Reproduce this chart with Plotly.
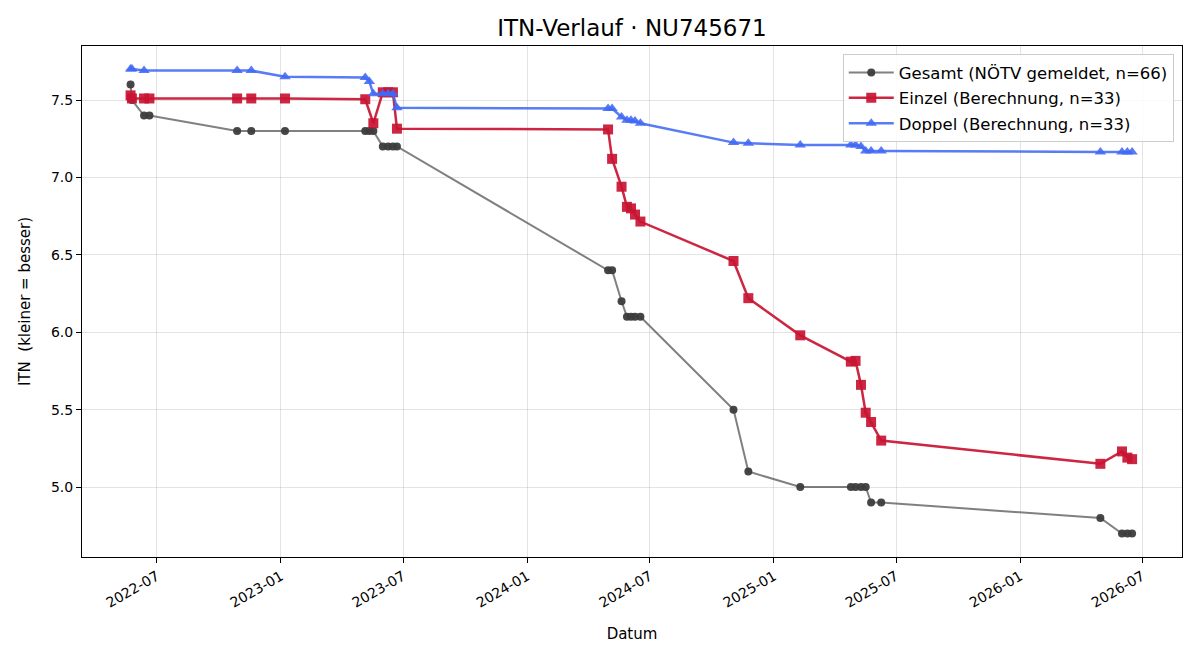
import plotly.graph_objects as go

# ---- data ----
gesamt_dates = ["2022-05-23", "2022-05-25", "2022-06-12", "2022-06-20", "2022-10-28", "2022-11-18",
                "2023-01-07", "2023-05-06", "2023-05-12", "2023-05-18", "2023-06-01", "2023-06-09",
                "2023-06-16", "2023-06-22", "2024-04-30", "2024-05-06", "2024-05-20", "2024-05-28",
                "2024-06-03", "2024-06-09", "2024-06-17", "2024-11-02", "2024-11-24", "2025-02-09",
                "2025-04-25", "2025-05-02", "2025-05-10", "2025-05-17", "2025-05-25", "2025-06-09",
                "2026-04-30", "2026-06-01", "2026-06-09", "2026-06-16"]
gesamt_vals = [7.60, 7.50, 7.40, 7.40, 7.30, 7.30,
               7.30, 7.30, 7.30, 7.30, 7.20, 7.20,
               7.20, 7.20, 6.40, 6.40, 6.20, 6.10,
               6.10, 6.10, 6.10, 5.50, 5.10, 5.00,
               5.00, 5.00, 5.00, 5.00, 4.90, 4.90,
               4.80, 4.70, 4.70, 4.70]

einzel_dates = ["2022-05-23", "2022-05-25", "2022-06-12", "2022-06-20", "2022-10-28", "2022-11-18",
                "2023-01-07", "2023-05-06", "2023-05-18", "2023-06-01", "2023-06-09", "2023-06-16",
                "2023-06-22", "2024-04-30", "2024-05-06", "2024-05-20", "2024-05-28", "2024-06-03",
                "2024-06-09", "2024-06-17", "2024-11-02", "2024-11-24", "2025-02-09", "2025-04-25",
                "2025-05-02", "2025-05-10", "2025-05-17", "2025-05-25", "2025-06-09", "2026-04-30",
                "2026-06-01", "2026-06-09", "2026-06-16"]
einzel_vals = [7.53, 7.51, 7.51, 7.51, 7.51, 7.51,
               7.51, 7.505, 7.35, 7.55, 7.55, 7.55,
               7.315, 7.31, 7.12, 6.94, 6.81, 6.80,
               6.76, 6.715, 6.46, 6.22, 5.98, 5.81,
               5.815, 5.66, 5.48, 5.42, 5.30, 5.15,
               5.23, 5.19, 5.18]

doppel_dates = ["2022-05-23", "2022-05-25", "2022-06-12", "2022-10-28", "2022-11-18", "2023-01-07",
                "2023-05-06", "2023-05-12", "2023-05-18", "2023-06-01", "2023-06-09", "2023-06-16",
                "2023-06-22", "2024-04-30", "2024-05-06", "2024-05-20", "2024-05-28", "2024-06-03",
                "2024-06-09", "2024-06-17", "2024-11-02", "2024-11-24", "2025-02-09", "2025-04-25",
                "2025-05-02", "2025-05-10", "2025-05-17", "2025-05-25", "2025-06-09", "2026-04-30",
                "2026-06-01", "2026-06-09", "2026-06-16"]
doppel_vals = [7.70, 7.70, 7.69, 7.69, 7.69, 7.65,
               7.645, 7.62, 7.54, 7.54, 7.54, 7.54,
               7.45, 7.445, 7.445, 7.39, 7.37, 7.37,
               7.365, 7.35, 7.225, 7.22, 7.21, 7.21,
               7.21, 7.20, 7.17, 7.17, 7.17, 7.165,
               7.165, 7.165, 7.165]

x_tick_vals = ["2022-07-01", "2023-01-01", "2023-07-01", "2024-01-01", "2024-07-01",
               "2025-01-01", "2025-07-01", "2026-01-01", "2026-07-01"]
x_tick_text = ["2022-07", "2023-01", "2023-07", "2024-01", "2024-07",
               "2025-01", "2025-07", "2026-01", "2026-07"]
y_tick_vals = [5.0, 5.5, 6.0, 6.5, 7.0, 7.5]

FONT = "DejaVu Sans"

fig = go.Figure()
fig.add_trace(go.Scatter(
    x=gesamt_dates, y=gesamt_vals, mode="lines+markers",
    name="Gesamt (NÖTV gemeldet, n=66)", legendgroup="g",
    line=dict(color="rgba(85,85,85,0.75)", width=2),
    marker=dict(symbol="circle", size=8, color="rgba(60,60,60,0.95)", line=dict(width=0)),
))
fig.add_trace(go.Scatter(
    x=einzel_dates, y=einzel_vals, mode="lines+markers",
    name="Einzel (Berechnung, n=33)", legendgroup="e",
    line=dict(color="rgba(200,20,50,0.92)", width=2.5),
    marker=dict(symbol="square", size=10, color="rgba(200,20,50,0.92)", line=dict(width=0)),
))
fig.add_trace(go.Scatter(
    x=doppel_dates, y=doppel_vals, mode="lines+markers",
    name="Doppel (Berechnung, n=33)", legendgroup="d",
    line=dict(color="rgba(65,105,245,0.88)", width=2.5),
    marker=dict(symbol="triangle-up", size=10, color="rgba(65,105,245,0.88)", line=dict(width=0)),
))

fig.update_layout(
    width=1200, height=660,
    margin=dict(l=82, r=18, t=46, b=103),
    paper_bgcolor="white", plot_bgcolor="white",
    font=dict(family=FONT, size=14, color="black"),
    title=dict(text="ITN-Verlauf · NU745671", x=0.5, xref="paper", xanchor="center",
               y=0.957, yanchor="middle",
               font=dict(family=FONT, size=23, color="black")),
    legend=dict(x=0.9925, y=0.984, xanchor="right", yanchor="top",
                bgcolor="rgba(255,255,255,0.85)", bordercolor="#cccccc", borderwidth=1,
                font=dict(family=FONT, size=16.5), itemwidth=45, tracegroupgap=1,
                traceorder="grouped"),
    showlegend=True,
)
fig.update_xaxes(
    range=["2022-03-12", "2026-08-29"],
    tickmode="array", tickvals=x_tick_vals, ticktext=x_tick_text, tickangle=-30,
    tickfont=dict(size=14),
    showgrid=True, gridcolor="rgba(176,176,176,0.35)", gridwidth=1,
    showline=True, linecolor="black", linewidth=1, mirror=True,
    ticks="outside", ticklen=5, tickcolor="black",
    zeroline=False,
    title=dict(text="Datum", font=dict(size=15), standoff=18),
)
fig.update_yaxes(
    range=[4.548, 7.849],
    tickmode="array", tickvals=y_tick_vals, tickformat=".1f",
    tickfont=dict(size=14),
    showgrid=True, gridcolor="rgba(176,176,176,0.35)", gridwidth=1,
    showline=True, linecolor="black", linewidth=1, mirror=True,
    ticks="outside", ticklen=5, tickcolor="black",
    zeroline=False,
    title=dict(text="ITN  (kleiner = besser)", font=dict(size=15), standoff=16),
)

fig.write_html("out.html")
